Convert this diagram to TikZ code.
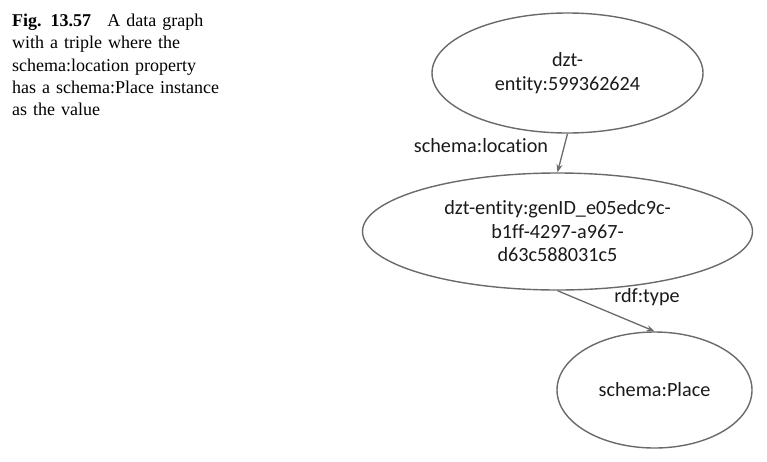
\documentclass[tikz,border=0pt]{standalone}
\usepackage{fontspec}
\setmainfont{Liberation Serif}
\newfontfamily\diagfont[Ligatures=NoCommon]{Carlito}
\usetikzlibrary{shapes.geometric,arrows.meta}
\definecolor{edgegray}{HTML}{6A6A6A}
\definecolor{txt}{HTML}{1A1A1A}
\tikzset{
  ent/.style={ellipse, draw=edgegray, line width=1.4pt, inner sep=0pt, align=center,
              font=\diagfont\fontsize{20.2}{23.5}\selectfont, text=txt},
  rel/.style={draw=edgegray, line width=1.3pt, -{Stealth[length=8pt,width=6pt]}},
  lbl/.style={font=\diagfont\fontsize{20.2}{23.5}\selectfont, text=txt, inner sep=0pt},
  captxt/.style={anchor=north west, align=left, inner sep=0pt,
              font=\fontsize{18}{22.25}\selectfont, text width=280pt}
}
\begin{document}
\begin{tikzpicture}[x=1pt,y=-1pt]
\useasboundingbox (0,0) rectangle (767,461);
\node[captxt] (caption) at (12,14) {\textbf{Fig. 13.57}\hspace{0.9em}A data graph\\with a triple where the\\schema:location property\\has a schema:Place instance\\as the value};
\node[ent, minimum width=271pt, minimum height=120pt] (top) at (567.5,73) {dzt-\\entity:599362624};
\node[ent, minimum width=390pt, minimum height=117pt] (mid) at (557.5,231.5) {dzt-entity:genID\_e05edc9c-\\b1ff-4297-a967-\\d63c588031c5};
\node[ent, minimum width=195pt, minimum height=116pt] (place) at (654.5,390) {schema:Place};
\draw[rel] (top.south) -- (mid.north);
\draw[rel] (mid.south) -- (place.north);
\node[lbl] (l1) at (481,146) {schema:location};
\node[lbl] (l2) at (647,297) {rdf:type};
\end{tikzpicture}
\end{document}
